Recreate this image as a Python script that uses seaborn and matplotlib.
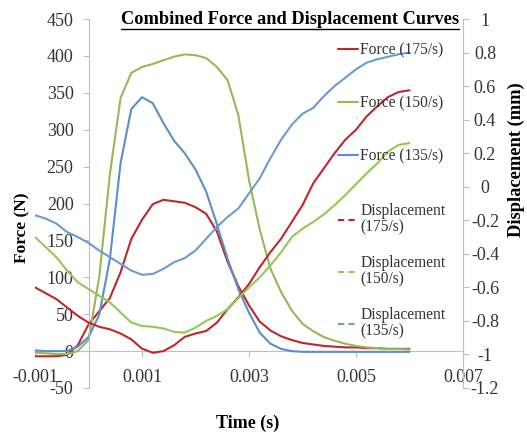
import matplotlib
matplotlib.use("Agg")
import matplotlib.pyplot as plt
from matplotlib.lines import Line2D
import pandas as pd
import seaborn as sns

# time in seconds, common grid for all six traces
time_s = [-0.001, -0.0008, -0.0006, -0.0004, -0.0002, 0.0, 0.0002, 0.0004, 0.0006,
          0.0008, 0.001, 0.0012, 0.0014, 0.0016, 0.0018, 0.002, 0.0022, 0.0024,
          0.0026, 0.0028, 0.003, 0.0032, 0.0034, 0.0036, 0.0038, 0.004, 0.0042,
          0.0044, 0.0046, 0.0048, 0.005, 0.0052, 0.0054, 0.0056, 0.0058, 0.006]

force_175 = [-7, -7, -7, -5, 8, 36, 54, 72, 107, 152, 178, 199, 205, 203, 201, 195,
             186, 162, 121, 88, 62, 40, 28, 20, 15, 11, 9, 7, 6, 5, 5, 4, 4, 3, 3, 3]
force_150 = [-2, -3, -4, -4, 0, 15, 100, 240, 343, 377, 385, 389, 394, 399, 402, 401,
             397, 385, 367, 320, 232, 165, 112, 80, 55, 37, 27, 19, 14, 10, 7, 5, 4, 3, 3, 2]
force_135 = [1, 0, 0, 0, 6, 19, 49, 125, 255, 328, 344, 336, 309, 285, 268, 246,
             216, 172, 125, 84, 52, 25, 10, 3, 0, -1, -1, -1, -1, -1, -1, -1, -1, -1, -1, -1]

disp_175 = [-0.60, -0.635, -0.67, -0.72, -0.77, -0.81, -0.835, -0.85, -0.875, -0.91,
            -0.965, -0.99, -0.98, -0.945, -0.895, -0.875, -0.86, -0.81, -0.73, -0.66,
            -0.58, -0.48, -0.39, -0.31, -0.21, -0.11, 0.02, 0.11, 0.20, 0.28, 0.34,
            0.42, 0.48, 0.535, 0.565, 0.575]
disp_150 = [-0.30, -0.36, -0.42, -0.50, -0.57, -0.61, -0.65, -0.69, -0.75, -0.81,
            -0.83, -0.835, -0.845, -0.865, -0.87, -0.84, -0.80, -0.77, -0.73, -0.665,
            -0.60, -0.54, -0.47, -0.39, -0.30, -0.25, -0.21, -0.165, -0.11, -0.05,
            0.015, 0.08, 0.14, 0.21, 0.25, 0.26]
disp_135 = [-0.17, -0.19, -0.22, -0.27, -0.30, -0.335, -0.38, -0.42, -0.46, -0.50,
            -0.525, -0.52, -0.49, -0.45, -0.425, -0.38, -0.31, -0.24, -0.18, -0.13,
            -0.04, 0.05, 0.17, 0.28, 0.37, 0.435, 0.47, 0.54, 0.60, 0.65, 0.70, 0.74,
            0.76, 0.775, 0.79, 0.80]

force_labels = ["Force (175/s)", "Force (150/s)", "Force (135/s)"]
disp_labels = ["Displacement\n(175/s)", "Displacement\n(150/s)", "Displacement\n(135/s)"]
force_colors = ["#C0272D", "#9BB55A", "#5A8FCC"]
disp_colors = ["#C0272D", "#92C957", "#6A9BD1"]

x_ticks = [-0.001, 0.001, 0.003, 0.005, 0.007]
x_tick_labels = ["-0.001", "0.001", "0.003", "0.005", "0.007"]
force_ticks = list(range(-50, 451, 50))
disp_ticks = [-1.2, -1.0, -0.8, -0.6, -0.4, -0.2, 0.0, 0.2, 0.4, 0.6, 0.8, 1.0]
disp_tick_labels = ["-1.2", "-1", "-0.8", "-0.6", "-0.4", "-0.2", "0", "0.2", "0.4", "0.6", "0.8", "1"]


def main() -> None:
	sns.set_style("white")
	plt.rcParams["font.family"] = ["Liberation Serif", "DejaVu Serif"]

	force_df = pd.concat(
		[pd.DataFrame({"time": time_s, "value": v, "series": lab})
		 for v, lab in zip([force_175, force_150, force_135], force_labels)],
		ignore_index=True,
	)
	disp_df = pd.concat(
		[pd.DataFrame({"time": time_s, "value": v, "series": lab})
		 for v, lab in zip([disp_175, disp_150, disp_135], disp_labels)],
		ignore_index=True,
	)

	W, H = 527, 434
	fig = plt.figure(figsize=(W / 100, H / 100), dpi=100)
	ax = fig.add_axes([35 / W, 1 - 388 / H, (463 - 35) / W, (388 - 19) / H])
	ax2 = ax.twinx()

	sns.lineplot(data=force_df, x="time", y="value", hue="series",
				 palette=dict(zip(force_labels, force_colors)), estimator=None,
				 sort=False, linewidth=1.5, legend=False, ax=ax)
	sns.lineplot(data=disp_df, x="time", y="value", hue="series",
				 palette=dict(zip(disp_labels, disp_colors)), estimator=None,
				 sort=False, linewidth=1.5, legend=False, ax=ax2)

	spine_col = "#BFBFBF"
	text_col = "#333333"
	tick_size = 13

	ax.set_xlim(-0.001, 0.007)
	ax.set_ylim(-50, 450)
	ax2.set_ylim(-1.2, 1.0)

	for s in ["top", "right", "bottom"]:
		ax.spines[s].set_visible(False)
	ax.spines["left"].set_position(("data", 0))
	ax.spines["left"].set_color(spine_col)
	for s in ["top", "left", "bottom"]:
		ax2.spines[s].set_visible(False)
	ax2.spines["right"].set_color(spine_col)

	ax.set_yticks(force_ticks)
	ax.set_yticklabels([str(v) for v in force_ticks])
	ax.tick_params(axis="y", direction="out", length=4, width=0.8, color=spine_col,
				   pad=6.8, labelsize=tick_size, labelcolor=text_col)
	ax2.set_yticks(disp_ticks)
	ax2.set_yticklabels(disp_tick_labels)
	ax2.tick_params(axis="y", direction="out", length=4, width=0.8, color=spine_col,
					pad=11.8, labelsize=tick_size, labelcolor=text_col)
	for lbl in ax2.get_yticklabels():
		lbl.set_horizontalalignment("center")

	ax.set_xticks(x_ticks)
	ax.set_xticklabels(x_tick_labels)
	ax.tick_params(axis="x", length=0, pad=-14, labelsize=tick_size, labelcolor=text_col)

	# horizontal axis line drawn at force = 0
	sec = ax.secondary_xaxis(50 / 500)
	sec.spines["bottom"].set_color(spine_col)
	sec.set_xticks(x_ticks)
	sec.set_xticklabels([])
	sec.tick_params(axis="x", direction="out", length=4, width=0.8, color=spine_col)

	ax.set_xlabel("")
	ax.set_ylabel("")
	ax2.set_ylabel("")

	fig.text(22 / W, 1 - 228 / H, "Force (N)", rotation=90, ha="center", va="center",
			 fontsize=12.5, fontweight="bold", color="black")
	fig.text(516 / W, 1 - 160 / H, "Displacement (mm)", rotation=90, ha="center",
			 va="center", fontsize=13.3, fontweight="bold", color="black")
	fig.text(248 / W, 1 - 423 / H, "Time (s)", ha="center", va="center",
			 fontsize=13, fontweight="bold", color="black")
	title = fig.text(290 / W, 1 - 20 / H, "Combined Force and Displacement Curves",
					 ha="center", va="center", fontsize=13.2, fontweight="bold",
					 color="black")

	force_handles = [Line2D([], [], color=c, lw=1.5) for c in force_colors]
	disp_handles = [Line2D([], [], color=c, lw=1.5, ls=(0, (3, 2))) for c in disp_colors]

	leg1 = ax2.legend(force_handles, force_labels, loc="upper left",
					  bbox_to_anchor=(338 / W, 1 - 42 / H), bbox_transform=fig.transFigure,
					  frameon=False, fontsize=11.2, borderpad=0, borderaxespad=0,
					  handlelength=1.3, handletextpad=0.13, labelspacing=2.4,
					  labelcolor=text_col)
	ax2.add_artist(leg1)
	leg2 = ax2.legend(disp_handles, disp_labels, loc="upper left",
					  bbox_to_anchor=(338 / W, 1 - 203 / H), bbox_transform=fig.transFigure,
					  frameon=False, fontsize=11.2, borderpad=0, borderaxespad=0,
					  handlelength=1.3, handletextpad=0.13, labelspacing=1.3,
					  labelcolor=text_col)
	for t in leg2.get_texts():
		t.set_linespacing(1.0)

	fig.canvas.draw()
	bb = title.get_window_extent()
	y_line = 1 - 29 / H
	fig.add_artist(Line2D([bb.x0 / W, bb.x1 / W], [y_line, y_line],
						  transform=fig.transFigure, color="black", lw=1.0))

	fig.savefig("out.png", dpi=100)
	plt.close(fig)


if __name__ == "__main__":
	main()
